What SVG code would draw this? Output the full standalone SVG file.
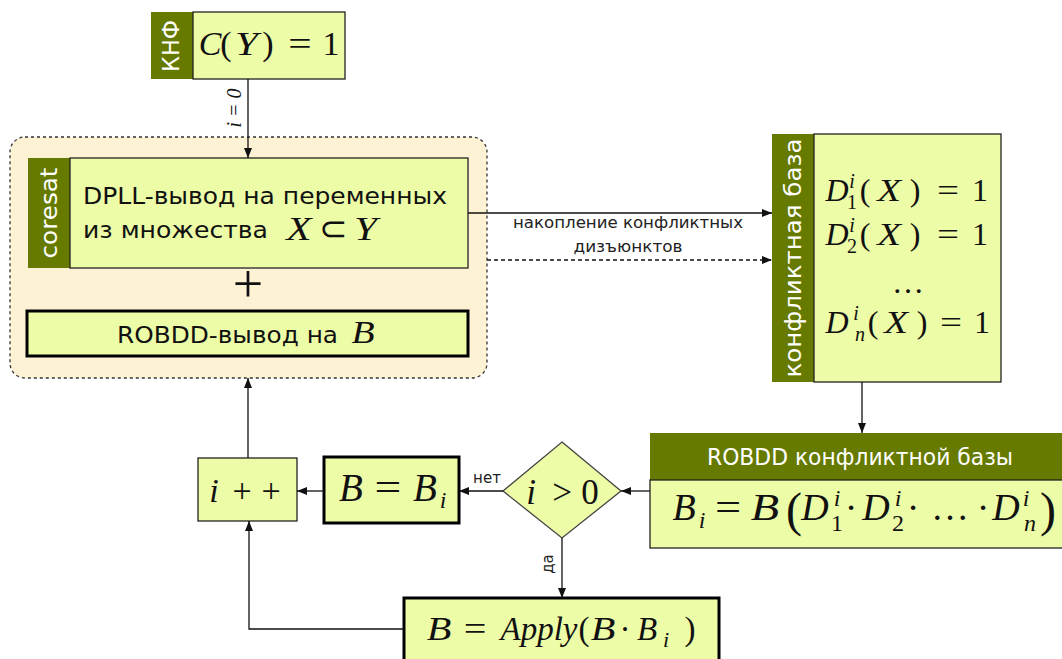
<svg xmlns="http://www.w3.org/2000/svg" width="1062" height="659" viewBox="0 0 1062 659">
  <defs>
    <style>
      .box { fill: #edfca7; stroke: #222; stroke-width: 1.3; }
      .thick { fill: #edfca7; stroke: #000; stroke-width: 3; }
      .tab { fill: #667a00; }
      .sans { font-family: "DejaVu Sans", "Liberation Sans", sans-serif; fill: #111; }
      .tabtxt { font-family: "DejaVu Sans", "Liberation Sans", sans-serif; fill: #fff; text-anchor: middle; }
      .m { font-family: "Liberation Serif", "Times New Roman", serif; fill: #111; text-anchor: middle; }
      .mi { font-family: "Liberation Serif", "Times New Roman", serif; font-style: italic; fill: #111; text-anchor: middle; }
      .up { font-style: normal; }
      /* widen serif glyphs towards TeX proportions */
      .sx { transform-box: fill-box; transform-origin: center; transform: scaleX(1.22); }
      .edge { fill: none; stroke: #111; stroke-width: 1.3; }
      .dash { stroke-dasharray: 4 3; }
      .lbl { font-family: "DejaVu Sans", "Liberation Sans", sans-serif; fill: #222; text-anchor: middle; }
    </style>
    <marker id="arrow" viewBox="0 0 10 8" refX="10" refY="4" markerWidth="10" markerHeight="8" markerUnits="userSpaceOnUse" orient="auto">
      <path d="M0,0 L10,4 L0,8 Z" fill="#111"/>
    </marker>
  </defs>

  <!-- container around coresat + ROBDD -->
  <g id="container">
    <rect x="10" y="137" width="477" height="241" rx="15" ry="15" fill="#fdf2d4" stroke="#333" stroke-width="1.3" stroke-dasharray="3 3"/>
  </g>

  <!-- CNF input -->
  <g id="cnf">
    <rect x="151" y="12" width="42" height="67" class="tab"/>
    <rect x="193" y="12" width="152" height="67" class="box"/>
    <text class="tabtxt" font-size="23" textLength="52" lengthAdjust="spacingAndGlyphs" transform="translate(179,46) rotate(-90)">КНФ</text>
    <g font-size="34">
      <text class="mi" x="210" y="55">C</text>
      <text class="m" x="226" y="55">(</text>
      <text class="mi sx" x="247" y="55">Y</text>
      <text class="m" x="268" y="55">)</text>
      <text class="m sx" x="300" y="55">=</text>
      <text class="m" x="331" y="55">1</text>
    </g>
  </g>

  <!-- coresat: DPLL on X -->
  <g id="coresat">
    <rect x="28" y="158" width="42" height="110" class="tab"/>
    <rect x="70" y="158" width="398" height="110" class="box"/>
    <text class="tabtxt" font-size="23" textLength="91" lengthAdjust="spacingAndGlyphs" transform="translate(57,213) rotate(-90)">coresat</text>
    <text class="sans" x="83" y="204" font-size="23" textLength="364" lengthAdjust="spacingAndGlyphs">DPLL-вывод на переменных</text>
    <text class="sans" x="83" y="238" font-size="23" textLength="185" lengthAdjust="spacingAndGlyphs">из множества</text>
    <g font-size="34">
      <text class="mi sx" x="299" y="240">X</text>
      <text class="m" x="333" y="240" font-family="DejaVu Serif, serif">⊂</text>
      <text class="mi sx" x="366" y="240">Y</text>
    </g>
  </g>

  <!-- plus sign -->
  <g id="plus">
    <text class="m" x="248" y="302" font-size="54">+</text>
  </g>

  <!-- ROBDD on B -->
  <g id="robdd-b">
    <rect x="27" y="311" width="441" height="45" class="thick"/>
    <text class="sans" x="117" y="343" font-size="23" textLength="221" lengthAdjust="spacingAndGlyphs">ROBDD-вывод на</text>
    <text class="mi sx" x="363" y="343" font-size="31">B</text>
  </g>

  <!-- conflict base -->
  <g id="conflict-base">
    <rect x="772" y="134" width="42" height="248" class="tab"/>
    <rect x="814" y="134" width="187" height="248" class="box"/>
    <text class="tabtxt" font-size="23" textLength="239" lengthAdjust="spacingAndGlyphs" transform="translate(801,258) rotate(-90)">конфликтная база</text>
    <g font-size="32">
      <text class="mi" x="837" y="201">D<tspan x="852" y="188" font-size="20">i</tspan><tspan class="up" x="852" y="209" font-size="20">1</tspan></text>
      <text class="m" x="865" y="201">(</text>
      <text class="mi sx" x="889" y="201">X</text>
      <text class="m" x="915" y="201">)</text>
      <text class="m sx" x="948" y="201">=</text>
      <text class="m" x="980" y="201">1</text>

      <text class="mi" x="837" y="245">D<tspan x="852" y="232" font-size="20">i</tspan><tspan class="up" x="852" y="253" font-size="20">2</tspan></text>
      <text class="m" x="865" y="245">(</text>
      <text class="mi sx" x="889" y="245">X</text>
      <text class="m" x="915" y="245">)</text>
      <text class="m sx" x="948" y="245">=</text>
      <text class="m" x="980" y="245">1</text>

      <text class="m" x="908" y="293">…</text>

      <text class="mi" x="837" y="333">D<tspan x="856" y="320" font-size="20">i</tspan><tspan x="860" y="341" font-size="20">n</tspan></text>
      <text class="m" x="873" y="333">(</text>
      <text class="mi sx" x="896" y="333">X</text>
      <text class="m" x="922" y="333">)</text>
      <text class="m sx" x="951" y="333">=</text>
      <text class="m" x="982" y="333">1</text>
    </g>
  </g>

  <!-- ROBDD of the conflict base -->
  <g id="robdd-conflict">
    <rect x="650" y="433" width="420" height="47" class="tab"/>
    <rect x="650" y="480" width="420" height="68" class="box"/>
    <text class="tabtxt" x="860" y="465" font-size="23" textLength="306" lengthAdjust="spacingAndGlyphs">ROBDD конфликтной базы</text>
    <g font-size="38">
      <text class="mi" x="684" y="520">B<tspan x="702" y="528" font-size="24">i</tspan></text>
      <text class="m sx" x="728" y="520">=</text>
      <text class="mi sx" x="765" y="520">B</text>
      <text class="m" x="794" y="526" font-size="48">(</text>
      <text class="mi" x="815" y="520">D<tspan x="837" y="506" font-size="24">i</tspan><tspan class="up" x="837" y="531" font-size="24">1</tspan></text>
      <text class="m" x="851" y="520">·</text>
      <text class="mi" x="876" y="520">D<tspan x="898" y="506" font-size="24">i</tspan><tspan class="up" x="898" y="531" font-size="24">2</tspan></text>
      <text class="m" x="913" y="520">·</text>
      <text class="m" x="950" y="520">…</text>
      <text class="m" x="983" y="520">·</text>
      <text class="mi" x="1006" y="520">D<tspan x="1026" y="506" font-size="24">i</tspan><tspan x="1030" y="531" font-size="24">n</tspan></text>
      <text class="m" x="1048" y="526" font-size="48">)</text>
    </g>
  </g>

  <!-- decision i > 0 -->
  <g id="decision">
    <polygon points="562,442 621,491 562,538 503,491" fill="#edfca7" stroke="#444" stroke-width="1.3"/>
    <g font-size="35">
      <text class="mi" x="531" y="504">i</text>
      <text class="m" x="562" y="504">&gt;</text>
      <text class="m" x="590" y="504">0</text>
    </g>
  </g>

  <!-- B = B_i -->
  <g id="assign-bi">
    <rect x="324" y="457" width="135" height="66" class="thick"/>
    <g font-size="39">
      <text class="mi" x="351" y="501">B</text>
      <text class="m sx" x="388" y="501">=</text>
      <text class="mi" x="425" y="501">B<tspan x="443" y="508" font-size="24">i</tspan></text>
    </g>
  </g>

  <!-- i++ -->
  <g id="increment">
    <rect x="198" y="458" width="99" height="63" class="box"/>
    <g font-size="34">
      <text class="mi" x="214" y="502">i</text>
      <text class="m" x="242" y="502">+</text>
      <text class="m" x="271" y="502">+</text>
    </g>
  </g>

  <!-- B = Apply(B . B_i) -->
  <g id="apply">
    <rect x="404" y="598" width="315" height="80" class="thick"/>
    <g font-size="33">
      <text class="mi sx" x="439" y="640">B</text>
      <text class="m sx" x="475" y="640">=</text>
      <text class="mi" x="539" y="640">Apply</text>
      <text class="m" x="584" y="640">(</text>
      <text class="mi sx" x="603" y="640">B</text>
      <text class="m" x="625" y="640">·</text>
      <text class="mi" x="647" y="640">B<tspan x="666" y="647" font-size="22">i</tspan></text>
      <text class="m" x="690" y="640">)</text>
    </g>
  </g>

  <!-- connectors -->
  <g id="connectors">
    <line x1="248" y1="79" x2="248" y2="158" class="edge" marker-end="url(#arrow)"/>
    <text class="mi" font-size="20" transform="translate(241,108) rotate(-90)">i = 0</text>

    <line x1="468" y1="213" x2="772" y2="213" class="edge" marker-end="url(#arrow)"/>
    <line x1="487" y1="260" x2="772" y2="260" class="edge dash" marker-end="url(#arrow)"/>
    <text class="lbl" x="628" y="228" font-size="16" textLength="230" lengthAdjust="spacingAndGlyphs">накопление конфликтных</text>
    <text class="lbl" x="628" y="252" font-size="16" textLength="109" lengthAdjust="spacingAndGlyphs">дизъюнктов</text>

    <line x1="862" y1="382" x2="862" y2="433" class="edge" marker-end="url(#arrow)"/>
    <line x1="650" y1="491" x2="621" y2="491" class="edge" marker-end="url(#arrow)"/>
    <line x1="503" y1="491" x2="459" y2="491" class="edge" marker-end="url(#arrow)"/>
    <text class="lbl" x="487" y="483" font-size="15">нет</text>
    <line x1="324" y1="491" x2="297" y2="491" class="edge" marker-end="url(#arrow)"/>
    <line x1="248" y1="458" x2="248" y2="378" class="edge" marker-end="url(#arrow)"/>

    <line x1="562" y1="538" x2="562" y2="598" class="edge" marker-end="url(#arrow)"/>
    <text class="lbl" font-size="15" transform="translate(553,564) rotate(-90)">да</text>

    <polyline points="404,629 249,629 249,521" class="edge" marker-end="url(#arrow)"/>
  </g>
</svg>
